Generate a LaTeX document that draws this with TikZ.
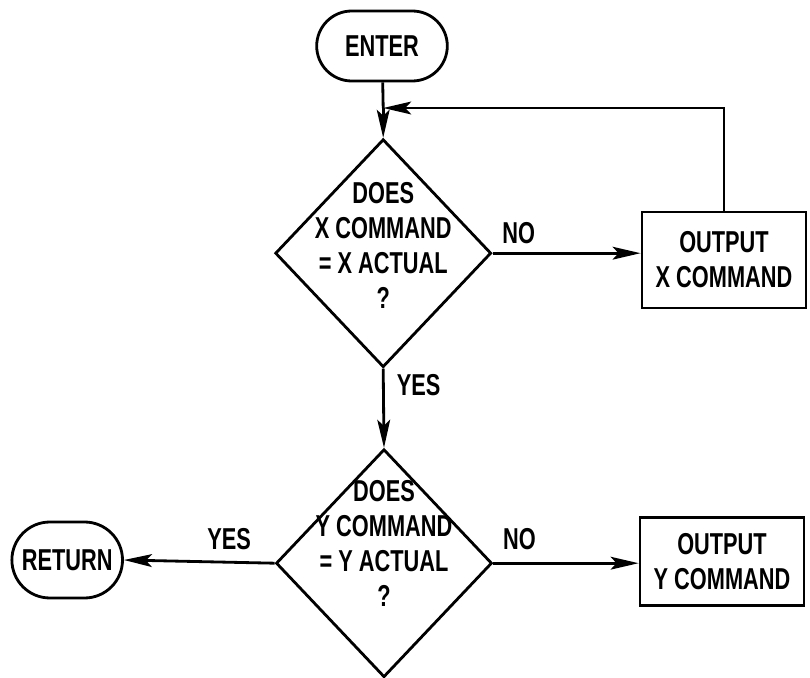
\documentclass[tikz,border=0pt]{standalone}
\usepackage{fontspec}
\setmainfont{Liberation Sans}[FakeStretch=0.72]
\usetikzlibrary{positioning,arrows.meta,shapes.geometric,shapes.misc}
\newcommand{\flowfont}{\fontsize{21.5}{25}\selectfont\bfseries}
\tikzset{
  box/.style={draw,line width=2pt,align=center,font=\flowfont,
              minimum width=4.1cm,minimum height=2.4cm,inner sep=2pt},
  arr/.style={-{Stealth[length=7mm,width=3.2mm,inset=1.5mm]},line width=2pt}
}

\begin{document}
\begin{tikzpicture}[
  term/.style={rounded rectangle,draw,line width=2pt,font=\flowfont,minimum height=1.75cm},
  decision/.style={diamond,draw,line width=2pt,inner sep=0pt,
                   minimum width=5.4cm,minimum height=5.7cm},
  qtext/.style={align=center,font=\flowfont},
  tag/.style={font=\flowfont,inner sep=1pt}]
  \useasboundingbox (0,0) rectangle (20.25,-16.95);
  \node[term,minimum width=3.5cm] (enter) at (9.55,-1.15) {ENTER};
  \coordinate (join) at (9.58,-2.7);
  \node[decision] (dx) at (9.58,-6.33) {};
  \node[qtext,yshift=0.2cm] (qx) at (dx) {DOES\\X COMMAND\\= X ACTUAL\\?};
  \node[box] (outx) at (18.1,-6.5) {OUTPUT\\X COMMAND};
  \node[decision] (dy) at (9.6,-14.08) {};
  \node[qtext,yshift=0.5cm] (qy) at (dy) {DOES\\Y COMMAND\\= Y ACTUAL\\?};
  \node[box,minimum height=2.2cm] (outy) at (18.05,-14.03) {OUTPUT\\Y COMMAND};
  \node[term,minimum width=3.0cm,minimum height=1.9cm] (ret) at (1.68,-14.0) {RETURN};
  \node[tag,above right=0.2cm and 0.2cm of dx.east] (nox) {NO};
  \node[tag,below right=0.1cm and 0.3cm of dx.south] (yesx) {YES};
  \node[tag,above right=0.3cm and 0.2cm of dy.east] (noy) {NO};
  \node[tag,above left=0.3cm and 0.55cm of dy.west] (yesy) {YES};
  \draw[line width=2pt] (enter) -- (join);
  \draw[arr] (join) -- (dx.north);
  \draw[arr] (dx.east) -- (dx.east -| outx.west);
  \draw[arr] (outx.north) |- (join);
  \draw[arr] (dx.south) -- (dy.north);
  \draw[arr] (dy.west) -- (ret.east);
  \draw[arr] (dy.east) -- (dy.east -| outy.west);
\end{tikzpicture}
\end{document}
